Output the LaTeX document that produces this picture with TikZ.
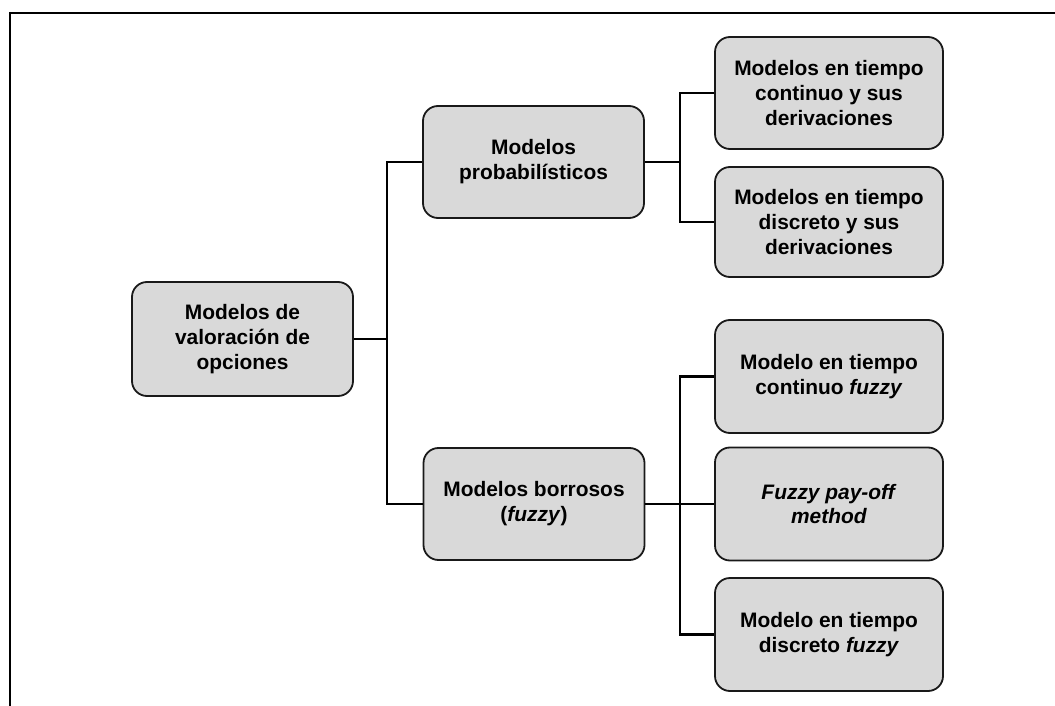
\documentclass[tikz,border=0pt]{standalone}
\usepackage{fontspec}
\setmainfont{Liberation Sans}
\definecolor{boxgray}{RGB}{217,217,217}
\definecolor{edgegray}{RGB}{25,25,25}
\tikzset{
  modelbox/.style={draw=edgegray, line width=1.8bp, fill=boxgray, rounded corners=15bp,
    minimum height=112bp, inner sep=0pt, align=center,
    font=\fontsize{21}{25}\selectfont\bfseries},
  smallbox/.style={modelbox, minimum width=221bp},
  rightbox/.style={modelbox, minimum width=228bp},
  conn/.style={line width=2.4bp, draw=black},
  frame/.style={draw=black}
}
\begin{document}
\begin{tikzpicture}[x=1bp,y=-1bp]
\useasboundingbox (0,0) rectangle (1055,706);
% frame
\draw[frame, line width=2.4bp] (9,13) -- (117,13);
\draw[frame, line width=1.2bp] (117,13) -- (967,13);
\draw[frame, line width=2.4bp] (967,13) -- (1055,13);
\draw[frame, line width=2.4bp] (10,12) -- (10,706);
% nodes
\node[smallbox, minimum height=114bp] (root) at (242.5,339) {Modelos de\\valoración de\\opciones};
\node[smallbox] (prob) at (533.5,162) {Modelos\\probabilísticos};
\node[smallbox] (fuz) at (534,504) {Modelos borrosos\\(\textit{fuzzy})};
\node[rightbox] (b1) at (829,93) {Modelos en tiempo\\continuo y sus\\derivaciones};
\node[rightbox, minimum height=110bp] (b2) at (829,222) {Modelos en tiempo\\discreto y sus\\derivaciones};
\node[rightbox, minimum height=113bp] (b3) at (829,376.5) {Modelo en tiempo\\continuo \textit{fuzzy}};
\node[rightbox, minimum height=113bp] (b4) at (829,504) {\textit{Fuzzy pay-off}\\\textit{method}};
\node[rightbox, minimum height=113bp] (b5) at (829,634.5) {Modelo en tiempo\\discreto \textit{fuzzy}};
% junctions
\coordinate (ja) at (387,339);
\coordinate (jb) at (680,162);
\coordinate (jc) at (680,504);
% connectors
\draw[conn] (root.east) -- (ja);
\draw[conn] (prob.west) -| (ja) |- (fuz.west);
\draw[conn] (prob.east) -- (jb);
\draw[conn] (b1.west) -| (jb) |- (b2.west);
\draw[conn] (fuz.east) -- (jc);
\draw[conn] (b3.west) -| (jc) |- (b5.west);
\draw[conn] (jc) -- (b4.west);
\end{tikzpicture}
\end{document}
